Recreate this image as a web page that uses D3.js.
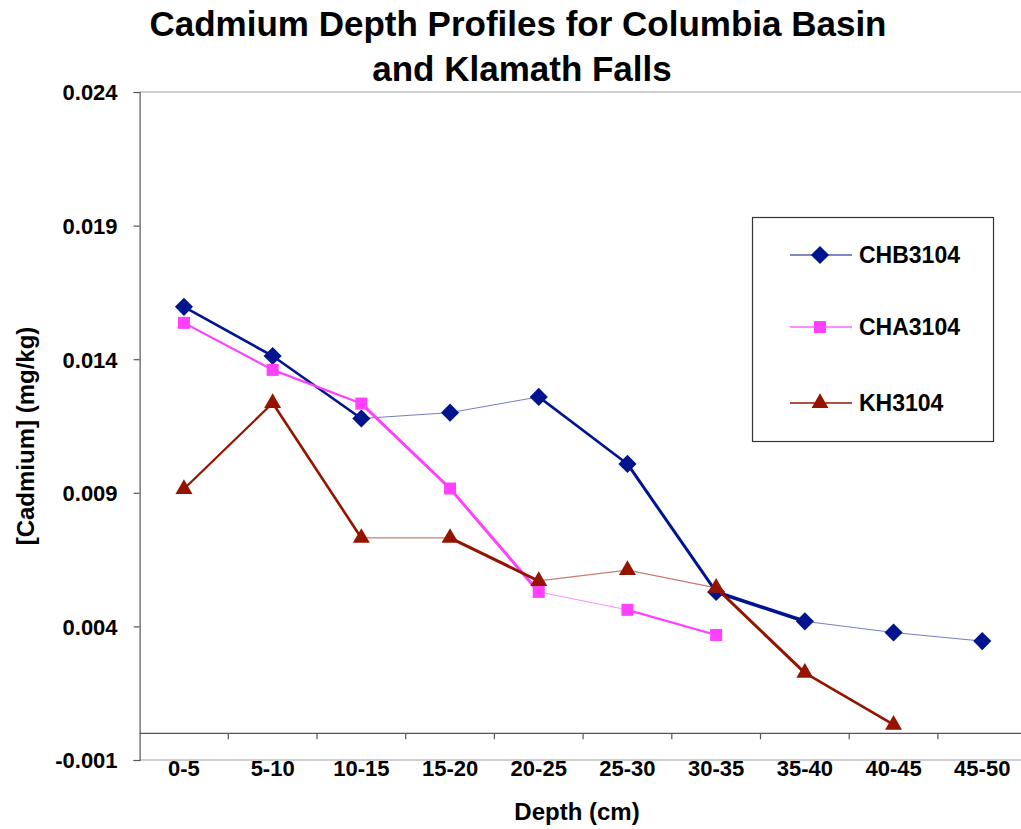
<!DOCTYPE html>
<html><head><meta charset="utf-8">
<script src="https://cdn.jsdelivr.net/npm/d3@7"></script>
<style>
body{margin:0;background:#fff}
svg text{font-family:"Liberation Sans",Arial,Helvetica,sans-serif;font-weight:bold;fill:#000}
</style>
</head><body>
<svg id="chart" width="1021" height="829"></svg>
<script>
// ---- data ----
const categories = ["0-5","5-10","10-15","15-20","20-25","25-30","30-35","35-40","40-45","45-50"];
const chb3104 = [0.01596, 0.01412, 0.01178, 0.01200, 0.01259, 0.01008, 0.00529, 0.00419, 0.00377, 0.00345];
const cha3104 = [0.01536, 0.01360, 0.01234, 0.00916, 0.00529, 0.00462, 0.00368];
const kh3104  = [0.00914, 0.01236, 0.00731, 0.00731, 0.00570, 0.00611, 0.00544, 0.00226, 0.00032];
const seriesNames = ["CHB3104","CHA3104","KH3104"];
const yTickValues = [-0.001, 0.004, 0.009, 0.014, 0.019, 0.024];

// ---- styles (per-segment line weights, as in the original) ----
const chbSegWidth = [2.6, 2.6, 1, 1, 2.6, 3, 3.6, 1, 1];
const chaSegWidth = [2.2, 2.2, 3, 3, 1, 2.2];
const khSegWidth  = [2.2, 2.6, 1.3, 3, 1.3, 1.3, 3, 2.6];
const colors = ["#001490", "#ff40ff", "#951400"];

const svg = d3.select("#chart");
const plotLeft = 139.6, plotRight = 1026.6, plotTop = 92, plotBottom = 760;

const x = d3.scaleBand().domain(categories).range([plotLeft, plotRight]).padding(0);
const y = d3.scaleLinear().domain([-0.001, 0.024]).range([plotBottom, plotTop]);
const cx = c => x(c) + x.bandwidth()/2;

// plot area border (top and bottom)
[0.024, -0.001].forEach(v => {
  svg.append("line").attr("x1", plotLeft).attr("x2", 1021).attr("y1", y(v)).attr("y2", y(v))
    .attr("stroke", "#a0a0a0").attr("stroke-width", 1.1);
});

// y axis
const fmt = d3.format(".3f");
const yAxis = d3.axisLeft(y).tickValues(yTickValues).tickSize(6).tickPadding(16)
  .tickFormat(d => fmt(d).replace("\u2212", "-"));
const gy = svg.append("g").attr("transform", `translate(${plotLeft},0)`).call(yAxis);
gy.select(".domain").attr("stroke", "#555").attr("stroke-width", 1.2);
gy.selectAll(".tick line").attr("stroke", "#555").attr("stroke-width", 1.2);
gy.selectAll(".tick text").style("font-size", "22px").attr("dy", "0.36em");

// x axis at y = 0
const xAxis = d3.axisBottom(x).tickSize(0).tickPadding(27);
const gx = svg.append("g").attr("transform", `translate(0,${y(0)})`).call(xAxis);
gx.select(".domain").remove();
gx.selectAll(".tick text").style("font-size", "22px");
svg.append("line").attr("x1", plotLeft).attr("x2", plotRight).attr("y1", y(0)).attr("y2", y(0))
  .attr("stroke", "#555").attr("stroke-width", 1.3);
svg.append("g").selectAll("line").data(categories).join("line")
  .attr("x1", d => x(d) + x.bandwidth()).attr("x2", d => x(d) + x.bandwidth())
  .attr("y1", y(0)).attr("y2", y(0) + 6)
  .attr("stroke", "#555").attr("stroke-width", 1.2);

// series
function drawSeries(vals, widths, color, symbol, size, segOpacityThin) {
  const pts = vals.map((v, i) => [cx(categories[i]), y(v)]);
  const g = svg.append("g");
  for (let i = 0; i < pts.length - 1; i++) {
    const w = widths[i];
    g.append("line")
      .attr("x1", pts[i][0]).attr("y1", pts[i][1])
      .attr("x2", pts[i+1][0]).attr("y2", pts[i+1][1])
      .attr("stroke", color).attr("stroke-width", w)
      .attr("stroke-opacity", w < 1.5 ? segOpacityThin : 1);
  }
  g.selectAll("path").data(pts).join("path")
    .attr("transform", d => `translate(${d[0]},${d[1]})`)
    .attr("d", d3.symbol().type(symbol).size(size))
    .attr("fill", color);
}
drawSeries(chb3104, chbSegWidth, colors[0], d3.symbolDiamond2, 210, 0.55);
drawSeries(cha3104, chaSegWidth, colors[1], d3.symbolSquare, 144, 0.6);
drawSeries(kh3104, khSegWidth, colors[2], d3.symbolTriangle, 125, 0.55);

// legend
const lg = svg.append("g");
lg.append("rect").attr("x", 752.5).attr("y", 217.5).attr("width", 241).attr("height", 224)
  .attr("fill", "#fff").attr("stroke", "#333").attr("stroke-width", 1.2);
const legendRows = [255, 327, 403];
const legendSymbols = [[d3.symbolDiamond2, 210], [d3.symbolSquare, 144], [d3.symbolTriangle, 125]];
const legendLineW = [1.2, 2, 1.6];
seriesNames.forEach((name, i) => {
  const yy = legendRows[i];
  lg.append("line").attr("x1", 790).attr("x2", 852).attr("y1", yy).attr("y2", yy)
    .attr("stroke", colors[i]).attr("stroke-width", legendLineW[i]).attr("stroke-opacity", i === 1 ? 0.6 : 1);
  lg.append("path").attr("transform", `translate(820,${yy})`)
    .attr("d", d3.symbol().type(legendSymbols[i][0]).size(legendSymbols[i][1]))
    .attr("fill", colors[i]);
  lg.append("text").attr("x", 859).attr("y", yy).attr("dy", "0.36em")
    .style("font-size", "23px").text(name);
});

// titles
svg.append("text").attr("x", 518).attr("y", 36).attr("text-anchor", "middle")
  .style("font-size", "35px").text("Cadmium Depth Profiles for Columbia Basin");
svg.append("text").attr("x", 522).attr("y", 81).attr("text-anchor", "middle")
  .style("font-size", "35px").text("and Klamath Falls");
svg.append("text").attr("x", 577).attr("y", 820).attr("text-anchor", "middle")
  .style("font-size", "24px").text("Depth (cm)");
svg.append("text").attr("transform", "translate(34,436) rotate(-90)").attr("text-anchor", "middle")
  .style("font-size", "24px").text("[Cadmium] (mg/kg)");
</script>
</body></html>
